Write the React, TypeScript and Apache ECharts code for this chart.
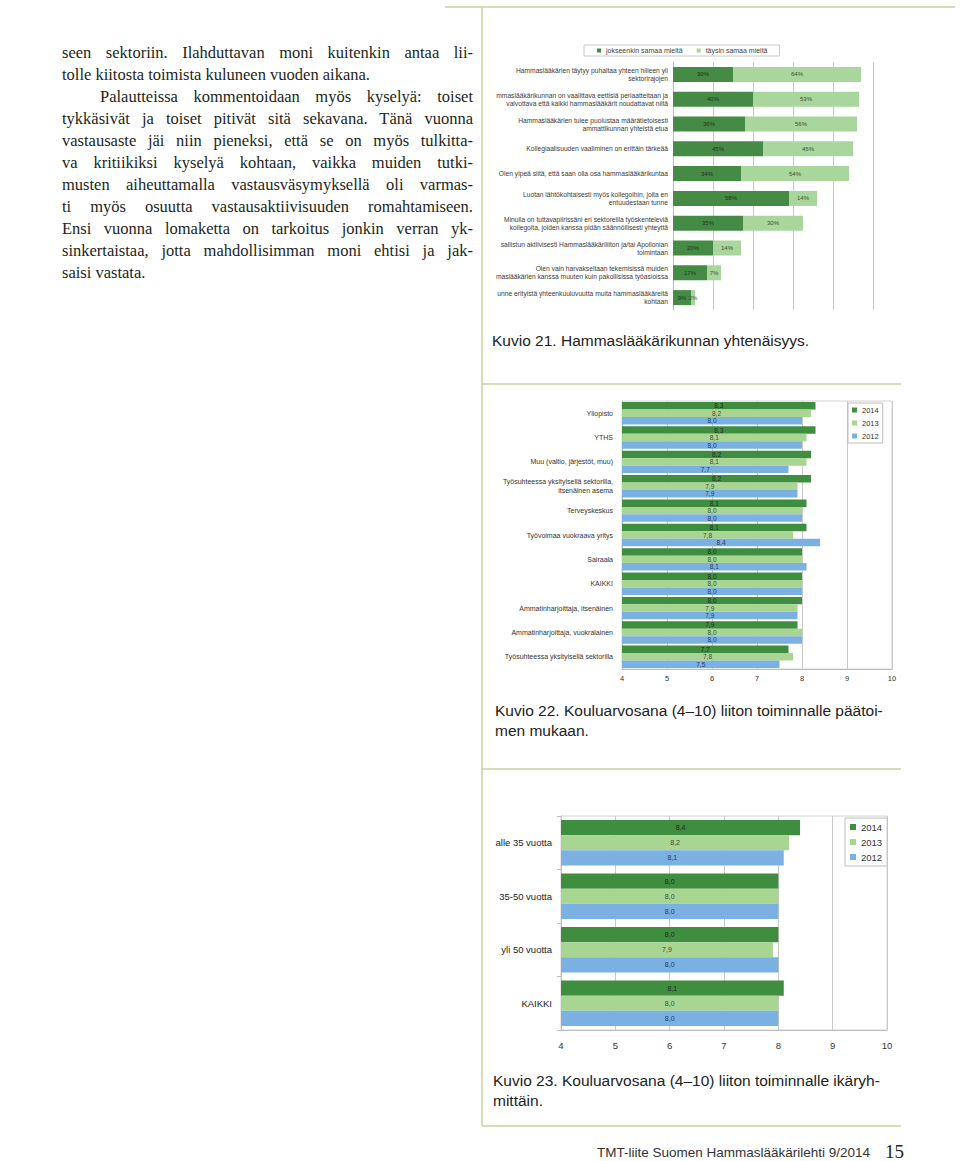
import React, { useEffect, useRef } from "react";
import * as echarts from "echarts";

// ---------- Kuvio 21 ----------
const k21Categories = [
  "Hammaslääkärien täytyy puhaltaa yhteen hiileen yli\nsektorirajojen",
  "mmaslääkärikunnan on vaalittava eettisiä periaatteitaan ja\nvalvottava että kaikki hammaslääkärit noudattavat niitä",
  "Hammaslääkärien tulee puolustaa määrätietoisesti\nammattikunnan yhteistä etua",
  "Kollegiaalisuuden vaaliminen on erittäin tärkeää",
  "Olen ylpeä siitä, että saan olla osa hammaslääkärikuntaa",
  "Luotan lähtökohtaisesti myös kollegoihin, joita en\nentuudestaan tunne",
  "Minulla on tuttavapiirissäni eri sektoreilla työskenteleviä\nkollegoita, joiden kanssa pidän säännöllisesti yhteyttä",
  "sallistun aktiivisesti Hammaslääkäriliiton ja/tai Apollonian\ntoimintaan",
  "Olen vain harvakseltaan tekemisissä muiden\nmaslääkärien kanssa muuten kuin pakollisissa työasioissa",
  "unne erityistä yhteenkuuluvuutta muita hammaslääkäreitä\nkohtaan",
];
const k21SeriesNames = ["jokseenkin samaa mieltä", "täysin samaa mieltä"];
const k21Jokseenkin = [30, 40, 36, 45, 34, 58, 35, 20, 17, 9];
const k21Taysin = [64, 53, 56, 45, 54, 14, 30, 14, 7, 2];

// ---------- Kuvio 22 ----------
const k22Categories = [
  "Yliopisto",
  "YTHS",
  "Muu (valtio, järjestöt, muu)",
  "Työsuhteessa yksityisellä sektorilla,\nitsenäinen asema",
  "Terveyskeskus",
  "Työvoimaa vuokraava yritys",
  "Sairaala",
  "KAIKKI",
  "Ammatinharjoittaja, itsenäinen",
  "Ammatinharjoittaja, vuokralainen",
  "Työsuhteessa yksityisellä sektorilla",
];
const k22Y2014 = [8.3, 8.3, 8.2, 8.2, 8.1, 8.1, 8.0, 8.0, 8.0, 7.9, 7.7];
const k22Y2013 = [8.2, 8.1, 8.1, 7.9, 8.0, 7.8, 8.0, 8.0, 7.9, 8.0, 7.8];
const k22Y2012 = [8.0, 8.0, 7.7, 7.9, 8.0, 8.4, 8.1, 8.0, 7.9, 8.0, 7.5];

// ---------- Kuvio 23 ----------
const k23Categories = ["alle 35 vuotta", "35-50 vuotta", "yli 50 vuotta", "KAIKKI"];
const k23Y2014 = [8.4, 8.0, 8.0, 8.1];
const k23Y2013 = [8.2, 8.0, 7.9, 8.0];
const k23Y2012 = [8.1, 8.0, 8.0, 8.0];

const yearNames = ["2014", "2013", "2012"];

// ---------- Body text ----------
const bodyLines = [
  { t: "seen sektoriin. Ilahduttavan moni kuitenkin antaa lii-", j: true, indent: 0 },
  { t: "tolle kiitosta toimista kuluneen vuoden aikana.", j: false, indent: 0 },
  { t: "Palautteissa kommentoidaan myös kyselyä: toiset", j: true, indent: 38 },
  { t: "tykkäsivät ja toiset pitivät sitä sekavana. Tänä vuonna", j: true, indent: 0 },
  { t: "vastausaste jäi niin pieneksi, että se on myös tulkitta-", j: true, indent: 0 },
  { t: "va kritiikiksi kyselyä kohtaan, vaikka muiden tutki-", j: true, indent: 0 },
  { t: "musten aiheuttamalla vastausväsymyksellä oli varmas-", j: true, indent: 0 },
  { t: "ti myös osuutta vastausaktiivisuuden romahtamiseen.", j: true, indent: 0 },
  { t: "Ensi vuonna lomaketta on tarkoitus jonkin verran yk-", j: true, indent: 0 },
  { t: "sinkertaistaa, jotta mahdollisimman moni ehtisi ja jak-", j: true, indent: 0 },
  { t: "saisi vastata.", j: false, indent: 0 },
];

const captionLines = [
  { t: "Kuvio 21. Hammaslääkärikunnan yhtenäisyys.", x: 492, y: 340 },
  { t: "Kuvio 22. Kouluarvosana (4–10) liiton toiminnalle päätoi-", x: 495, y: 710 },
  { t: "men mukaan.", x: 495, y: 730 },
  { t: "Kuvio 23. Kouluarvosana (4–10) liiton toiminnalle ikäryh-", x: 493, y: 1080 },
  { t: "mittäin.", x: 493, y: 1100 },
];

const DARK = "#3f8d3f";
const LIGHT = "#a9d593";
const BLUE = "#7bb0e2";
const RULE = "#c9d29c";
const SANS = "Liberation Sans";

const fmt = (p: any) => Number(p.value).toFixed(1).replace(".", ",");

function yearSeries(xi: number, data: number[][], fontSize: number, gapCat: string) {
  const colors = [DARK, LIGHT, BLUE];
  const labelColors = ["#1c2c1c", "#34502c", "#1f3c63"];
  return yearNames.map((n, i) => ({
    name: n,
    type: "bar",
    xAxisIndex: xi,
    yAxisIndex: xi,
    data: data[i],
    barGap: "0%",
    barCategoryGap: gapCat,
    itemStyle: { color: colors[i] },
    label: {
      show: true,
      position: "inside",
      formatter: fmt,
      fontSize,
      color: labelColors[i],
      fontFamily: SANS,
    },
  }));
}

const option: any = {
  animation: false,
  backgroundColor: "transparent",
  textStyle: { fontFamily: SANS },
  grid: [
    { left: 673, top: 62, width: 200, height: 248 },
    { left: 622, top: 401, width: 270, height: 268, show: true, borderColor: "#d2d2d2", borderWidth: 1 },
    { left: 561, top: 816, width: 326, height: 214, show: true, borderColor: "#d2d2d2", borderWidth: 1 },
  ],
  xAxis: [
    {
      type: "value",
      gridIndex: 0,
      min: 0,
      max: 100,
      interval: 20,
      axisLabel: { show: false },
      axisLine: { show: false },
      axisTick: { show: false },
      splitLine: { lineStyle: { color: "#c9c9c9", width: 1 } },
    },
    {
      type: "value",
      gridIndex: 1,
      min: 4,
      max: 10,
      interval: 1,
      axisLabel: { fontSize: 7.5, color: "#333", margin: 5, fontFamily: SANS },
      axisLine: { show: true, lineStyle: { color: "#bdbdbd" } },
      axisTick: { show: false },
      splitLine: { lineStyle: { color: "#c9c9c9", width: 1 } },
    },
    {
      type: "value",
      gridIndex: 2,
      min: 4,
      max: 10,
      interval: 1,
      axisLabel: { fontSize: 9.5, color: "#333", margin: 10, fontFamily: SANS },
      axisLine: { show: true, lineStyle: { color: "#bdbdbd" } },
      axisTick: { show: false },
      splitLine: { lineStyle: { color: "#c9c9c9", width: 1 } },
    },
  ],
  yAxis: [
    {
      type: "category",
      gridIndex: 0,
      inverse: true,
      data: k21Categories,
      axisLine: { show: true, lineStyle: { color: "#bdbdbd" } },
      axisTick: { show: false },
      axisLabel: { interval: 0, fontSize: 6.7, lineHeight: 8, color: "#3a3a3a", margin: 5, fontFamily: SANS },
    },
    {
      type: "category",
      gridIndex: 1,
      inverse: true,
      data: k22Categories,
      axisLine: { show: true, lineStyle: { color: "#bdbdbd" } },
      axisTick: { show: false },
      axisLabel: { interval: 0, fontSize: 7, lineHeight: 9, color: "#333", margin: 9, fontFamily: SANS },
    },
    {
      type: "category",
      gridIndex: 2,
      inverse: true,
      data: k23Categories,
      axisLine: { show: true, lineStyle: { color: "#bdbdbd" } },
      axisTick: { show: true, length: 4, lineStyle: { color: "#bdbdbd" } },
      axisLabel: { interval: 0, fontSize: 9.5, color: "#222", margin: 9, fontFamily: SANS },
    },
  ],
  legend: [
    {
      data: k21SeriesNames,
      left: 584,
      top: 45,
      orient: "horizontal",
      icon: "rect",
      itemWidth: 4,
      itemHeight: 4,
      itemGap: 14,
      padding: [2, 12, 2, 13],
      borderColor: "#c8c8c8",
      borderWidth: 1,
      textStyle: { fontSize: 7, color: "#444", fontFamily: SANS },
      selectedMode: false,
    },
    {
      data: yearNames,
      left: 848,
      top: 403,
      orient: "vertical",
      icon: "rect",
      itemWidth: 5,
      itemHeight: 5,
      itemGap: 5,
      padding: [3, 4, 3, 4],
      borderColor: "#bdbdbd",
      borderWidth: 1,
      backgroundColor: "#fff",
      textStyle: { fontSize: 7.5, color: "#333", fontFamily: SANS },
      selectedMode: false,
    },
    {
      data: yearNames,
      left: 845,
      top: 818,
      orient: "vertical",
      icon: "rect",
      itemWidth: 6,
      itemHeight: 6,
      itemGap: 5,
      padding: [4, 5, 4, 5],
      borderColor: "#bdbdbd",
      borderWidth: 1,
      backgroundColor: "#fff",
      textStyle: { fontSize: 9.5, color: "#333", fontFamily: SANS },
      selectedMode: false,
    },
  ],
  series: [
    {
      name: k21SeriesNames[0],
      type: "bar",
      stack: "k21",
      xAxisIndex: 0,
      yAxisIndex: 0,
      barWidth: 15,
      data: k21Jokseenkin,
      itemStyle: { color: "#458b45" },
      label: { show: true, position: "inside", formatter: "{c}%", fontSize: 6, color: "#1f331f", fontFamily: SANS },
    },
    {
      name: k21SeriesNames[1],
      type: "bar",
      stack: "k21",
      xAxisIndex: 0,
      yAxisIndex: 0,
      barWidth: 15,
      data: k21Taysin,
      itemStyle: { color: "#a9d69c" },
      label: { show: true, position: "inside", formatter: "{c}%", fontSize: 6, color: "#37522f", fontFamily: SANS },
    },
    ...yearSeries(1, [k22Y2014, k22Y2013, k22Y2012], 6.5, "8%"),
    ...yearSeries(2, [k23Y2014, k23Y2013, k23Y2012], 7, "15%"),
  ],
  graphic: [
    { type: "line", shape: { x1: 445, y1: 7, x2: 955, y2: 7 }, style: { stroke: RULE, lineWidth: 1.5 } },
    { type: "line", shape: { x1: 482, y1: 7, x2: 482, y2: 1126 }, style: { stroke: RULE, lineWidth: 1.5 } },
    { type: "line", shape: { x1: 482, y1: 384, x2: 901, y2: 384 }, style: { stroke: RULE, lineWidth: 1.5 } },
    { type: "line", shape: { x1: 482, y1: 769, x2: 901, y2: 769 }, style: { stroke: RULE, lineWidth: 1.5 } },
    { type: "line", shape: { x1: 482, y1: 1126, x2: 901, y2: 1126 }, style: { stroke: RULE, lineWidth: 1.5 } },
    ...captionLines.map((c) => ({
      type: "text",
      x: c.x,
      y: c.y,
      style: {
        text: c.t,
        fill: "#222",
        fontSize: 15.5,
        fontFamily: SANS,
        textVerticalAlign: "middle",
        verticalAlign: "middle",
      },
    })),
    {
      type: "text",
      x: 597,
      y: 1152,
      style: {
        text: "TMT-liite Suomen Hammaslääkärilehti 9/2014",
        fill: "#333",
        fontSize: 13.5,
        fontFamily: SANS,
        textVerticalAlign: "middle",
        verticalAlign: "middle",
      },
    },
    {
      type: "text",
      x: 885,
      y: 1151,
      style: {
        text: "15",
        fill: "#222",
        fontSize: 19,
        fontFamily: "Liberation Serif",
        textVerticalAlign: "middle",
        verticalAlign: "middle",
      },
    },
  ],
};

export default function App() {
  const ref = useRef<HTMLDivElement>(null);
  useEffect(() => {
    const chart = echarts.init(ref.current!, null, { renderer: "svg", width: 960, height: 1161 });
    chart.setOption(option);
    return () => chart.dispose();
  }, []);
  return (
    <div
      style={{
        position: "absolute",
        left: 0,
        top: 0,
        width: 960,
        height: 1161,
        background: "#fff",
        overflow: "hidden",
      }}
    >
      <div ref={ref} style={{ position: "absolute", left: 0, top: 0, width: 960, height: 1161 }} />
      {bodyLines.map((l, i) => (
        <div
          key={i}
          style={{
            position: "absolute",
            left: 62 + l.indent,
            top: 42 + 22 * i,
            width: 411 - l.indent,
            fontFamily: "'Liberation Serif', serif",
            fontSize: 16.5,
            lineHeight: "22px",
            color: "#231f20",
            textAlign: l.j ? "justify" : "left",
            textAlignLast: l.j ? "justify" : "left",
          }}
        >
          {l.t}
        </div>
      ))}
    </div>
  );
}
